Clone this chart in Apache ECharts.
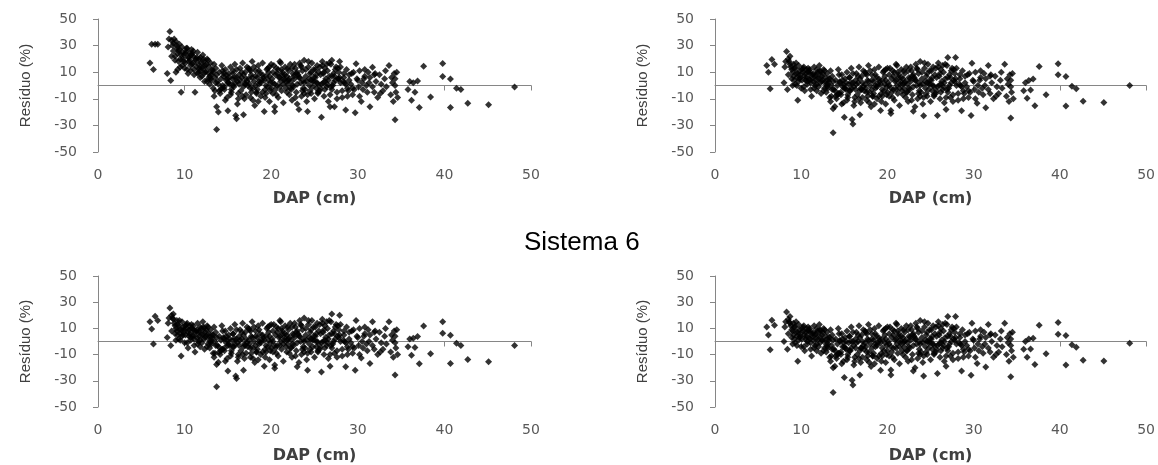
<!DOCTYPE html>
<html lang="pt">
<head>
    <meta charset="utf-8">
    <title>Sistema 6</title>
    <script src="https://cdn.jsdelivr.net/npm/echarts@6/dist/echarts.min.js"></script>
    <style>
        html, body { margin: 0; padding: 0; background: #fff; }
        #main { width: 1158px; height: 465px; }
    </style>
</head>
<body>
    <div id="main"></div>
    <script>
    // DAP (cm) das arvores, igual nos quatro graficos
    var dap = [
        6.0, 6.2, 6.4, 6.6, 6.9, 8.1, 8.2, 8.0, 8.3, 8.4,
        8.5, 8.6, 8.7, 8.8, 8.9, 9.0, 9.1, 9.2, 9.3, 9.6,
        9.0, 9.2, 9.4, 9.5, 9.7, 9.8, 9.9, 10.0, 10.2, 10.4,
        10.5, 10.6, 10.7, 10.8, 10.9, 11.0, 11.1, 11.2, 11.3, 11.4,
        11.5, 11.6, 11.7, 11.8, 11.9, 12.0, 12.1, 12.2, 12.3, 12.4,
        12.5, 12.6, 12.7, 12.8, 12.9, 13.0, 13.1, 13.2, 13.3, 13.4,
        13.7, 13.7, 13.9, 13.5, 13.6, 13.8, 14.0, 14.1, 14.3, 14.4,
        14.5, 14.6, 14.7, 14.8, 14.9, 15.0, 15.1, 15.2, 15.3, 15.4,
        15.5, 15.6, 15.7, 15.8, 15.9, 16.0, 16.1, 16.2, 16.3, 16.4,
        16.5, 16.6, 16.7, 16.8, 16.9, 17.0, 17.1, 17.2, 17.3, 17.4,
        17.5, 17.6, 17.7, 17.8, 17.9, 18.0, 18.1, 18.2, 18.3, 18.4,
        18.5, 18.6, 18.7, 18.8, 18.9, 19.0, 19.2, 19.3, 19.4, 19.5,
        19.6, 19.7, 19.8, 19.9, 20.0, 20.1, 20.2, 20.4, 20.4, 20.5,
        20.6, 20.7, 20.8, 20.9, 21.0, 21.1, 21.2, 21.3, 21.4, 21.5,
        21.6, 21.7, 21.8, 21.9, 22.0, 22.1, 22.2, 22.3, 22.4, 22.5,
        22.6, 22.7, 22.8, 22.9, 23.0, 23.1, 23.2, 23.3, 23.4, 23.5,
        23.6, 23.7, 23.8, 23.9, 24.0, 24.1, 24.2, 24.3, 24.4, 24.5,
        24.6, 24.7, 24.8, 24.9, 25.0, 25.1, 25.2, 25.3, 25.4, 25.5,
        25.8, 25.6, 25.7, 25.9, 26.0, 26.1, 26.2, 26.3, 26.4, 26.5,
        26.6, 26.7, 26.8, 26.9, 27.0, 27.1, 27.2, 27.3, 27.4, 27.5,
        27.6, 27.8, 27.9, 28.0, 28.2, 28.4, 28.6, 28.7, 28.8, 29.0,
        29.2, 29.4, 29.7, 29.8, 30.0, 30.2, 30.4, 30.6, 30.8, 31.0,
        31.2, 31.4, 31.7, 31.9, 32.1, 32.3, 32.5, 32.7, 32.9, 33.1,
        33.3, 33.6, 33.8, 34.0, 34.1, 34.2, 34.3, 34.3, 34.3, 34.4,
        36.2, 36.6, 36.9, 36.4, 37.1, 37.6, 38.4, 39.8, 39.8, 40.7,
        40.7, 41.4, 41.9, 42.7, 45.1, 48.1, 35.8, 36.0, 34.5, 34.6,
        8.5, 8.7, 8.9, 9.1, 9.3, 9.5, 9.7, 9.9, 10.1, 10.3,
        10.1, 10.3, 10.5, 10.7, 10.9, 11.1, 11.3, 11.5, 10.4, 11.0,
        11.6, 11.8, 12.0, 12.2, 12.4, 12.6, 12.8, 13.0, 11.7, 12.5,
        13.1, 13.3, 13.5, 13.7, 13.9, 14.2, 14.4, 14.6, 14.8, 15.0,
        15.2, 15.4, 15.6, 15.8, 16.0, 16.2, 16.4, 16.6, 16.8, 17.0,
        17.2, 17.4, 17.6, 17.8, 18.0, 18.2, 18.4, 18.6, 18.8, 19.0,
        19.2, 19.4, 19.6, 19.8, 20.0, 20.2, 20.4, 20.6, 20.8, 21.0,
        21.2, 21.4, 21.6, 21.8, 22.0, 22.2, 22.4, 22.6, 22.8, 23.0,
        23.2, 23.4, 23.6, 23.8, 24.0, 24.2, 24.4, 24.6, 24.8, 25.0,
        25.2, 25.4, 25.6, 25.8, 26.0, 26.2, 26.4, 26.6, 26.8, 27.0,
        27.2, 27.4, 27.6, 27.8, 28.0, 28.2, 28.4, 28.6, 28.8, 29.0,
        29.3, 29.6, 29.9, 30.2, 30.5, 30.8, 31.1, 31.4, 31.7, 32.0,
        13.4, 14.0, 14.7, 15.3, 16.1, 16.9, 17.7, 18.5, 19.3, 19.9,
        20.3, 21.1, 21.9, 22.7, 23.5, 24.3, 25.1, 25.9, 26.7, 27.7,
        12.1, 12.9, 13.6, 14.3, 14.9, 15.6, 13.2, 14.5, 15.8, 12.7,
        16.3, 17.1, 17.9, 18.6, 19.4, 16.8, 17.6, 18.3, 19.1, 19.8,
        20.2, 21.0, 21.8, 22.5, 23.3, 20.7, 21.5, 22.3, 23.0, 23.8,
        24.1, 24.9, 25.7, 26.5, 27.3, 24.5, 25.3, 26.1, 26.9, 27.7,
        9.4, 9.8, 10.2, 10.6, 11.0, 11.4, 11.8, 12.2, 9.6, 10.8,
        28.3, 28.9, 29.5, 30.1, 30.7, 31.3, 31.9, 32.6, 33.2, 33.9,
        14.2, 15.1, 16.0, 16.7, 17.5, 18.2, 19.0, 19.7, 20.5, 21.3,
        22.1, 22.9, 23.7, 24.6, 25.4, 26.2, 27.0, 27.9, 28.5, 29.4
    ];

    // residuos (%) de cada grafico: superior esq., superior dir., inferior esq., inferior dir.
    var res1 = [
        17, 31, 12, 31, 31, 29, 35, 9, 40.6, 3.8,
        34, 30, 26, 35, 22, 33, 28, 12, 18, -5,
        10, 24, 27, 20, 15, 25, 23, 13, 26, 21,
        18, 24, 11, 27, 16, 22, 8, -5, 19, 14,
        25, 10, 20, 6, 17, 13, 23, 9, 3, 15,
        11, 20, 5, 14, 1, 17, 8, 12, -2, 16,
        -33, -16, -20, 6, 13, 3, 10, -6, 15, 0,
        7, -3, 12, 4, -9, -19, 9, 1, 14, -5,
        5, 11, -1, 16, -22.5, -25, 3, -10, 8, 13,
        -4, 6, 17, -22, 2, 10, -7, 14, 0, 5,
        12, -2, 8, 18, -11, 3, -15, 11, -5, 6,
        15, 1, 9, -8, 4, 17, -19.5, -3, 7, 12,
        -1, 10, -12, 2, 16, 5, -6, -19.5, -16, 8,
        13, 0, -9, 6, 18, 3, -4, 10, -13, 4,
        14, -2, 7, 1, 11, -7, 16, 3, -11, 9,
        -1, 5, 13, -5, -14, 8, -18, 17, 2, -8,
        11, 4, 19, -3, 7, -12, -19.5, 14, 0, 9,
        -6, 17, 3, 12, -10, 6, -2, 15, 1, 10,
        -23.8, -4, 8, 18, 2, -8, 13, 5, -1, 11,
        -12, 7, -16, 16, 19, 0, 9, -16, 4, 14,
        -5, 10, 18, 2, -9, 6, -18.5, 12, -2, 8,
        1, -7, -20.5, 16.3, 4, 11, -12, -3, 7, 0,
        10, -16, 13.8, -5, 3, -9, 8, 1, -4, 5,
        -1, 15, -7, 2, -12, 9, -25.8, 5, 0, -5,
        -11, -5, 3.3, 2, -16.5, 14.5, -8.7, 16.5, 6.7, 4.8,
        -16.5, -2, -3, -13.3, -14.5, -1.2, -3, 3, 10, -9,
        22, 32, 19, 30, 26, 14, 29, 18, 24, 12,
        17, 28, 21, 15, 24, 12, 20, 9, 9, 26,
        16, 21, 7, 18, 10, 3, 9, 5, 13, 16,
        4, 10, -4, 8, 1, 5, 11, -1, 8, 2,
        6, -3, 9, 2, 12, -6, 4, 10, -1, 1,
        3, 13, -9, 6, 14, 0, -3, 11, 2, 8,
        4, -6, 13, 7, -2, 10, 1, -7, 12, 6,
        12, 1, 8, -5, 4, -2, 13, 7, -9, 10,
        6, 15, -4, 2, 12, -7, 5, 10, -1, 3,
        8, -6, 14, 1, 9, -3, 16, 4, -7, 7,
        2, 12, -10, 5, 14, -4, 9, 1, -8, 4,
        9, -3, 5, -8, 2, 12, -5, 6, -1, 9,
        -8, -4, -11, -7, -14, -10, -5, -12, -9, -4,
        15, 17, 13, 16, 14, 18, 12, 15, 17, 13,
        14, 7, 2, -2, 5, 0, 11, 9, 6, 19,
        1, 5, -2, 3, 0, 8, 11, -6, 6, 14,
        2, -1, 3, 0, 6, 9, 5, -3, 1, -6,
        3, 6, -2, 1, 7, -4, 2, 10, -1, 5,
        31, 20, 28, 19, 17, 21, 11, 20, 23, 23,
        3, -4, 10, -1, 5, 2, 8, -6, 11, 6,
        -3, 2, 6, -8, 1, 7, -5, 4, -3, 8,
        5, 9, -2, 4, -5, 3, -3, 6, 2, -2
    ];

    var res2 = [
        15, 10, -2.5, 19.5, 16, 14, 18, 2, 25.5, -3,
        20, 18, 16, 14, 12, 10, 7, 4, 1, -11,
        0, 13, 9, 6, 3, 11, 8, -2, 10, 7,
        4, 12, 1, 13, 5, 9, -3, -8, 6, 3,
        14, 0, 8, -4, 10, 5, 15, 2, -6, 7,
        4, 12, -2, 6, -5, 9, 1, 3, -9, 11,
        -35.6, -17.5, -15.7, 0, 7, -3, 4, -10, 12, -6,
        2, -7, 8, -1, -13, -23.8, 5, -3, 10, -9,
        1, 6, -4, 13, -25.5, -29, -1, -12, 4, 9,
        -7, 2, 14, -22, -2, 7, -9, 11, -4, 1,
        9, -5, 4, 15, -13, 0, -16, 8, -8, 3,
        12, -2, 6, -10, 1, 14, -18.8, -6, 4, 10,
        -4, 7, -14, -1, 13, 2, -8, -21, -18.8, 5,
        11, -3, -11, 3, 16, 0, -6, 8, -15, 1,
        12, -4, 5, -2, 9, -9, 14, 1, -12, 6,
        -3, 3, 11, -7, -19.3, 6, -16, 16, 0, -10,
        9, 2, 18, -5, 5, -14, -22.8, 13, -2, 7,
        -8, 16, 1, 11, -12, 4, -4, 14, -1, 8,
        -22.5, -6, 6, 17, 0, -10, 12, 3, -3, 10,
        -13, 5, -18, 15, 21, -2, 8, -9, 2, 13,
        -7, 9, 21, 0, -11, 5, -19, 11, -4, 7,
        -1, -9, -22.5, 16.8, 3, 10, -13.3, -5, 6, -2,
        9, -16.8, 15, -6, 2, -10, 7, -1, -6, 4,
        -2, 16, -8, 1, -12, 8, -24.5, 4, -1, -5,
        -9.5, -3.3, 4.8, 3.8, -15.3, 14.3, -7, 16.3, 8, 6.8,
        -15.5, -0.5, -2.5, -11.8, -12.8, 0, -4, 2, 9, -10,
        8, 22, 5, 16, 13, 0, 15, 6, 12, -1,
        4, 14, 9, 3, 11, 2, 8, -2, -4, 12,
        7, 12, -1, 10, 3, -4, 3, -1, 4, 9,
        -2, 5, -8, 3, -4, 0, 8, -5, 4, -2,
        2, -7, 6, -2, 9, -9, 1, 7, -4, -3,
        -1, 10, -11, 3, 11, -3, -6, 8, -1, 5,
        1, -8, 11, 4, -5, 8, -2, -9, 10, 4,
        10, -2, 6, -7, 2, -5, 11, 5, -11, 8,
        4, 13, -6, 0, 10, -9, 3, 9, -3, 1,
        6, -8, 13, -1, 7, -5, 15, 2, -9, 6,
        0, 11, -12, 3, 13, -6, 8, -1, -10, 2,
        8, -5, 4, -10, 0, 11, -7, 5, -3, 8,
        -12, -8, -14, -11, -15, -13, -8, -14, -12, -7,
        13, 15, 11, 14, 12, 17, 11, 14, 16, 12,
        6, 1, -3, -6, 1, -4, 5, 3, 2, 11,
        -3, 2, -5, 0, -3, 5, 8, -8, 3, 12,
        0, -3, 1, -2, 4, 7, 3, -5, -1, -8,
        1, 4, -4, -1, 6, -6, 0, 9, -3, 4,
        17, 5, 13, 6, 4, 9, 1, 11, 9, 10,
        1, -6, 9, -3, 4, 0, 7, -8, 10, 5,
        -7, -2, 2, -10, -2, 4, -8, 1, -5, 6,
        3, 7, -4, 2, -7, 1, -5, 5, 0, -4
    ];

    var res3 = [
        15, 9.5, -2, 19.3, 16, 14, 18, 3, 25.5, -3,
        20, 18, 17, 14, 12, 10, 8, 5, 2, -11,
        1, 13, 9, 6, 4, 11, 9, -1, 10, 7,
        4, 12, 1, 13, 5, 9, -3, -8, 7, 3,
        14, 0, 8, -4, 10, 5, 15, 2, -6, 7,
        4, 12, -2, 6, -5, 9, 1, 3, -9, 11,
        -34.5, -17.5, -15.8, 0, 7, -3, 4, -10, 12, -6,
        2, -7, 8, -1, -13, -22.5, 5, -3, 10, -9,
        1, 6, -4, 13, -26.3, -28.3, -1, -12, 4, 9,
        -7, 2, 14, -22, -2, 7, -9, 11, -4, 1,
        9, -5, 4, 15, -13, 0, -16, 8, -8, 3,
        12, -2, 6, -10, 1, 14, -18.8, -6, 4, 10,
        -4, 7, -14, -1, 13, 2, -8, -20.5, -18, 5,
        11, -3, -11, 3, 16, 0, -6, 8, -15, 1,
        12, -4, 5, -2, 9, -9, 14, 1, -12, 6,
        -3, 3, 11, -7, -19.3, 6, -16, 16, 0, -10,
        9, 2, 18, -5, 5, -14, -22, 13, -2, 7,
        -8, 16, 1, 11, -12, 4, -4, 14, -1, 8,
        -23.3, -6, 6, 17, 0, -10, 12, 3, -3, 10,
        -13, 5, -18.8, 15, 21, -2, 8, -9, 2, 13,
        -7, 9, 20, 0, -11, 5, -19.3, 11, -4, 7,
        -1, -9, -22, 16, 3, 10, -12.5, -5, 6, -2,
        9, -16.8, 15, -6, 2, -10, 7, -1, -6, 4,
        -2, 15, -8, 1, -12, 8, -25.5, 4, -1, -5,
        -10.5, -4.5, 3.8, 2.5, -17, 11.8, -9.3, 15, 6.3, 4.8,
        -16.8, -1.3, -3, -13.8, -15.5, -3, -4, 2, 9, -10,
        8, 21, 6, 16, 12, 1, 15, 7, 12, -1,
        5, 14, 9, 3, 10, 2, 8, -2, -5, 12,
        7, 11, -1, 10, 3, -4, 4, -1, 4, 9,
        -2, 5, -9, 3, -4, 1, 8, -5, 4, -3,
        2, -7, 6, -2, 9, -10, 1, 7, -4, -3,
        -1, 10, -12, 3, 11, -3, -6, 9, -1, 5,
        1, -8, 11, 4, -5, 8, -3, -9, 10, 4,
        10, -2, 6, -8, 2, -5, 11, 5, -11, 8,
        4, 13, -6, 0, 10, -9, 3, 9, -4, 1,
        6, -8, 13, -1, 7, -5, 15, 2, -10, 6,
        0, 11, -12, 3, 13, -6, 8, -1, -10, 2,
        8, -5, 4, -10, 0, 11, -7, 5, -3, 8,
        -12, -8, -15, -11, -15, -13, -9, -14, -12, -7,
        13, 15, 11, 14, 12, 16, 11, 14, 16, 12,
        6, 1, -3, -6, 1, -4, 5, 3, 2, 11,
        -3, 2, -5, 0, -3, 5, 8, -8, 3, 12,
        0, -3, 1, -2, 4, 7, 3, -5, -1, -8,
        1, 4, -4, -1, 6, -6, 0, 9, -3, 4,
        16, 5, 13, 6, 4, 9, 1, 11, 9, 10,
        1, -6, 9, -3, 4, 0, 7, -8, 10, 5,
        -7, -2, 2, -10, -2, 4, -8, 1, -5, 6,
        3, 7, -4, 2, -7, 1, -5, 5, 0, -4
    ];

    var res4 = [
        11, 5, -6.3, 16.3, 12.5, 11, 15, 0, 22.5, -6,
        17, 15, 14, 12, 9, 8, 5, 2, -1, -15,
        -2, 11, 7, 4, 1, 9, 6, -4, 8, 5,
        2, 10, -2, 11, 3, 7, -6, -11, 4, 1,
        12, -3, 6, -7, 8, 2, 13, -1, -9, 5,
        1, 10, -5, 4, -8, 7, -2, 1, -12, 9,
        -39, -20, -18.8, -3, 5, -6, 2, -13, 10, -9,
        0, -10, 6, -4, -15, -27.5, 3, -6, 8, -12,
        -1, 4, -7, 11, -29.5, -33.3, -3, -15, 2, 7,
        -10, 0, 12, -25.5, -5, 5, -12, 9, -6, -1,
        7, -8, 2, 13, -16, -2, -19, 6, -11, 1,
        10, -4, 4, -13, -1, 12, -22, -9, 2, 8,
        -7, 5, -16, -3, 11, 0, -11, -21.8, -25.5, 3,
        9, -5, -14, 1, 14, -2, -9, 6, -17, -1,
        10, -7, 3, -4, 7, -12, 12, -1, -15, 4,
        -5, 1, 9, -10, -22.5, 4, -20, 14, -2, -13,
        7, 0, 16, -8, 3, -16, -26.3, 11, -4, 5,
        -10, 14, -1, 9, -14, 2, -6, 12, -3, 6,
        -24.5, -8, 4, 15, -2, -12, 10, 1, -5, 8,
        -15, 3, -18.8, 13, 19, -4, 6, -11, 0, 11,
        -9, 7, 19, -2, -13, 3, -22.5, 9, -6, 5,
        -3, -11, -25.8, 14, 1, 8, -16.8, -7, 4, -4,
        7, -19.5, 13, -8, 0, -12, 5, -3, -8, 2,
        -4, 14, -10, -1, -15, 6, -27, 2, -3, -7,
        -12, -5.8, 2.5, 2, -17.5, 12.5, -9.3, 14.5, 5.5, 4.5,
        -18, -2.5, -4.3, -14.3, -14.8, -1.3, -6, 0, 7, -12,
        6, 19, 3, 14, 11, -3, 13, 4, 10, -4,
        2, 12, 7, 0, 9, -1, 6, -5, -7, 10,
        5, 10, -4, 8, 1, -7, 1, -4, 2, 7,
        -5, 3, -11, 1, -7, -2, 6, -8, 2, -4,
        0, -10, 4, -5, 7, -12, -1, 5, -7, -5,
        -3, 8, -14, 1, 9, -5, -9, 6, -3, 3,
        -1, -11, 9, 2, -7, 6, -4, -12, 8, 2,
        8, -4, 4, -10, 0, -7, 9, 3, -14, 6,
        2, 11, -9, -2, 8, -11, 1, 7, -5, -1,
        4, -10, 11, -3, 5, -7, 13, 0, -11, 4,
        -2, 9, -14, 1, 11, -8, 6, -3, -12, 0,
        6, -7, 2, -12, -2, 9, -9, 3, -5, 6,
        -15, -11, -17, -14, -18, -16, -11, -17, -15, -10,
        11, 13, 9, 12, 10, 15, 9, 12, 14, 10,
        4, -2, -6, -9, -1, -7, 3, 1, 0, 9,
        -5, 0, -8, -2, -5, 3, 6, -11, 1, 10,
        -2, -5, -1, -4, 2, 5, 1, -7, -3, -10,
        -1, 2, -6, -3, 4, -8, -2, 7, -5, 2,
        15, 3, 11, 4, 2, 7, -2, 9, 7, 8,
        -1, -8, 7, -5, 2, -2, 5, -10, 8, 3,
        -10, -5, 0, -13, -4, 2, -11, -1, -8, 4,
        1, 5, -6, 0, -9, -1, -7, 3, -2, -6
    ];

    var residuos = [res1, res2, res3, res4];

    var grids = [
        {left: 98, top: 19, width: 433, height: 133},
        {left: 715, top: 19, width: 432, height: 133},
        {left: 98, top: 276, width: 433, height: 133},
        {left: 715, top: 276, width: 432, height: 133}
    ];

    var axisGray = '#868686';
    var labelStyle = {color: '#595959', fontSize: 14, fontFamily: 'DejaVu Sans'};

    var xAxes = [], yAxes = [], series = [];
    grids.forEach(function (g, i) {
        // eixo de baixo: so rotulos e titulo
        xAxes.push({
            gridIndex: i, type: 'value', min: 0, max: 50, interval: 10, position: 'bottom',
            name: 'DAP (cm)', nameLocation: 'middle', nameGap: i < 2 ? 39 : 41,
            nameTextStyle: {color: '#404040', fontSize: 16, fontWeight: 'bold', fontFamily: 'DejaVu Sans'},
            axisLine: {show: false, onZero: false},
            axisTick: {show: false},
            splitLine: {show: false},
            axisLabel: Object.assign({margin: 16}, labelStyle)
        });
        // linha do zero com marcas
        xAxes.push({
            gridIndex: i, type: 'value', min: 0, max: 50, interval: 10, position: 'bottom',
            axisLine: {show: true, onZero: true, lineStyle: {color: axisGray, width: 1}},
            axisTick: {show: true, length: 5, lineStyle: {color: axisGray}},
            axisLabel: {show: false},
            splitLine: {show: false}
        });
        yAxes.push({
            gridIndex: i, type: 'value', min: -50, max: 50, interval: 20,
            name: 'Resíduo (%)', nameLocation: 'middle', nameRotate: 90, nameGap: 65,
            nameTextStyle: {color: '#404040', fontSize: 15, fontFamily: "'Liberation Sans Narrow', 'Liberation Sans', Arial"},
            axisLine: {show: true, onZero: false, lineStyle: {color: axisGray, width: 1}},
            axisTick: {show: true, length: 5, lineStyle: {color: axisGray}},
            splitLine: {show: false},
            axisLabel: Object.assign({margin: 21}, labelStyle)
        });
        series.push({
            type: 'scatter',
            xAxisIndex: 2 * i + 1,
            yAxisIndex: i,
            symbol: 'diamond',
            symbolSize: 7,
            itemStyle: {color: '#000'},
            silent: true,
            data: dap.map(function (d, k) { return [d, residuos[i][k]]; })
        });
    });

    var myChart = echarts.init(document.getElementById('main'));
    var option = {
        backgroundColor: '#fff',
        animation: false,
        title: {
            text: 'Sistema 6',
            left: 519,
            top: 225,
            textStyle: {color: '#000', fontSize: 26, fontWeight: 'normal', fontFamily: "'Liberation Sans', Arial"}
        },
        grid: grids,
        xAxis: xAxes,
        yAxis: yAxes,
        series: series
    };
    myChart.setOption(option);
    </script>
</body>
</html>
